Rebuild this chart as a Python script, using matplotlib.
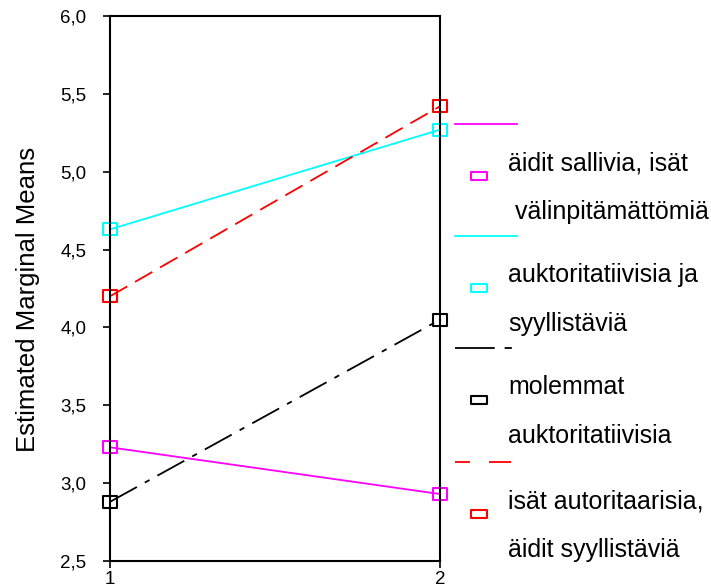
import matplotlib
matplotlib.use('Agg')
from matplotlib import pyplot as plt
from matplotlib.path import Path

plt.rcParams['font.family'] = ['Liberation Sans', 'DejaVu Sans']

# data
x = [1, 2]
groups = ['äidit sallivia, isät\n välinpitämättömiä',
          'auktoritatiivisia ja\nsyyllistäviä',
          'molemmat\nauktoritatiivisia',
          'isät autoritaarisia,\näidit syyllistäviä']
means = [[3.23, 2.93],
         [4.63, 5.27],
         [2.88, 4.05],
         [4.20, 5.42]]
colors = ['#ff00ff', '#00ffff', '#000000', '#ff0000']
styles = ['-', '-', (0, (17, 5, 3, 5)), (0, (11, 5))]
leg_styles = ['-', '-', (0, (22, 5.5, 4, 60)), (0, (8.3, 10.5, 12.2, 60))]
yticks = [2.5, 3.0, 3.5, 4.0, 4.5, 5.0, 5.5, 6.0]

# a slightly wide rectangle marker like the SPSS one
rect = Path([(-1.2, -1.0), (1.2, -1.0), (1.2, 1.0), (-1.2, 1.0), (-1.2, -1.0)],
            [Path.MOVETO, Path.LINETO, Path.LINETO, Path.LINETO, Path.CLOSEPOLY])
rect_leg = Path([(-1.5, -0.85), (1.5, -0.85), (1.5, 0.85), (-1.5, 0.85), (-1.5, -0.85)],
                [Path.MOVETO, Path.LINETO, Path.LINETO, Path.LINETO, Path.CLOSEPOLY])

fig = plt.figure(figsize=(7.11, 5.86), dpi=100)
ax = fig.add_axes([110 / 711, 25 / 586, 330 / 711, 545 / 586])

for vals, c, ls in zip(means, colors, styles):
    ax.plot(x, vals, color=c, linestyle=ls, linewidth=1.3, clip_on=False)
    ax.plot(x, vals, linestyle='none', marker=rect, markersize=10,
            markerfacecolor='none', markeredgecolor=c, markeredgewidth=1.5,
            clip_on=False)

ax.set_xlim(1, 2)
ax.set_ylim(2.5, 6.0)
ax.set_xticks(x)
ax.set_xticklabels(['1', '2'])
ax.set_yticks(yticks)
ax.set_yticklabels([('%.1f' % v).replace('.', ',') for v in yticks])
ax.tick_params(axis='both', direction='out', length=5, width=1.2,
               labelsize=13.5)
ax.tick_params(axis='x', pad=2)
ax.tick_params(axis='y', pad=12)
for sp in ax.spines.values():
    sp.set_linewidth(1.5)
ax.set_ylabel('Estimated Marginal Means', fontsize=18.5)
ax.yaxis.set_label_coords(-0.212, 0.48)

# SPSS style legend: line sample, then marker next to the two-line label
lg = fig.add_axes([0, 0, 1, 1], facecolor='none')
lg.set_xlim(0, 711)
lg.set_ylim(586, 0)
lg.axis('off')
line_y = [124, 236, 348, 462]
for i, (name, c, ls) in enumerate(zip(groups, colors, leg_styles)):
    y0 = line_y[i]
    lg.plot([455, 517], [y0, y0], color=c, linestyle=ls, linewidth=1.3)
    lg.plot([479], [y0 + 52], marker=rect_leg, markersize=11,
            markerfacecolor='none', markeredgecolor=c, markeredgewidth=1.5)
    first, second = name.split('\n')
    lg.text(508, y0 + 39, first, fontsize=18, va='center', ha='left')
    lg.text(508, y0 + 88, second, fontsize=18, va='center', ha='left')

fig.savefig('out.png', dpi=100)
